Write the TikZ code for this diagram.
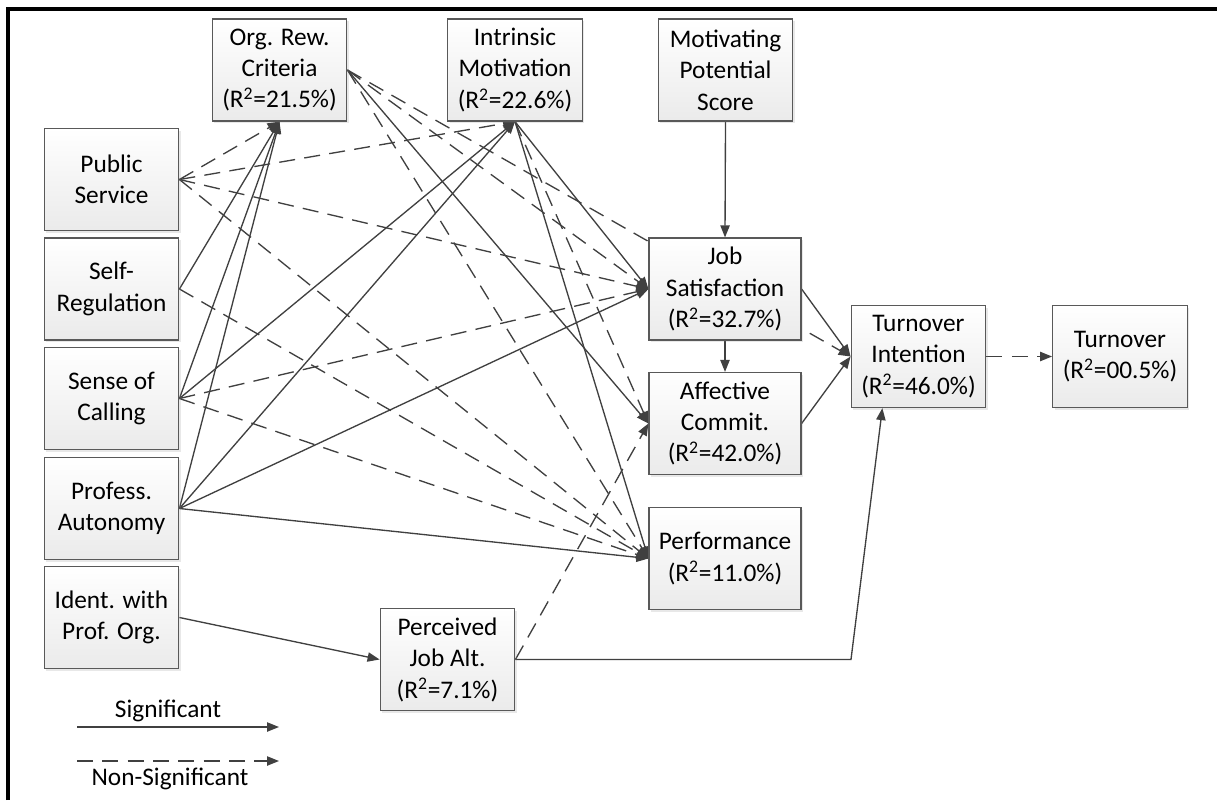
\documentclass[tikz,border=0pt]{standalone}
\usepackage{fontspec}
\setmainfont{Carlito}
\usetikzlibrary{arrows.meta,positioning,shadows}
\pgfdeclarelayer{bg}
\pgfsetlayers{bg,main}

\begin{document}
\begin{tikzpicture}[x=0.75pt,y=-0.75pt,
    font=\fontsize{19}{23.6}\selectfont,
    box/.style={draw=black!65, line width=0.9pt, top color=white, bottom color=black!8,
        drop shadow={opacity=0.18, shadow xshift=1.5pt, shadow yshift=-1.5pt},
        minimum width=101pt, minimum height=76.5pt, inner sep=0pt, align=center},
    wbox/.style={box, minimum width=114pt},
    sig/.style={draw=black!75, line width=1pt, -{Triangle[length=9pt,width=7pt]}},
    nsig/.style={sig, dash pattern=on 12pt off 7pt}]
    \useasboundingbox (0,0) rectangle (1217,800);
    \draw[line width=2.5pt] (8,800) -- (8,9) -- (1217,9);

    % mediators
    \node[box] (orc) at (279.5,70) {Org. Rew.\\Criteria\\(R\textsuperscript{2}=21.5\%)};
    \node[box] (im) at (515,70) {Intrinsic\\Motivation\\(R\textsuperscript{2}=22.6\%)};
    \node[box] (mps) at (725.5,70) {Motivating\\Potential\\Score};
    % antecedents
    \node[box] (ps) at (111.5,179.5) {Public\\Service};
    \node[box] (sr) at (111.5,289) {Self-\\Regulation};
    \node[box] (sc) at (111.5,398.5) {Sense of\\Calling};
    \node[box] (pa) at (111.5,508.5) {Profess.\\Autonomy};
    \node[box] (ident) at (111.5,617.5) {Ident. with\\Prof. Org.};
    \node[box] (pja) at (447.5,659.5) {Perceived\\Job Alt.\\(R\textsuperscript{2}=7.1\%)};
    % outcomes
    \node[wbox] (js) at (725,289) {Job\\Satisfaction\\(R\textsuperscript{2}=32.7\%)};
    \node[wbox] (ac) at (725,423.5) {Affective\\Commit.\\(R\textsuperscript{2}=42.0\%)};
    \node[wbox] (perf) at (725,558.5) {Performance\\(R\textsuperscript{2}=11.0\%)};
    \node[box] (ti) at (918.5,356.5) {Turnover\\Intention\\(R\textsuperscript{2}=46.0\%)};
    \node[box] (turn) at (1120,356.5) {Turnover\\(R\textsuperscript{2}=00.5\%)};
    \coordinate (bend) at (851,659.5);

    \begin{pgfonlayer}{bg}
        % significant paths
        \foreach \s/\t in {sr/orc.south, sc/orc.south, pa/orc.south, sc/im.south,
                           pa/im.south, pa/js.west, pa/perf.west, ident/pja.west}
            \draw[sig] (\s.east) -- (\t);
        \draw[sig] (im.south) -- (js.west);
        \draw[sig] (im.south) -- (perf.west);
        \draw[sig] (orc.east) -- (ac.west);
        \draw[sig] (mps.south) -- (js.north);
        \draw[sig] (js.south) -- (ac.north);
        \draw[sig] (js.east) -- (ti.west);
        \draw[sig] (ac.east) -- (ti.west);
        \draw[sig] (pja.east) -- (bend) -- (ti.-125);
        % non-significant paths
        \foreach \s/\t in {ps/orc.south, ps/im.south, ps/js.west, ps/perf.west,
                           sr/perf.west, sc/js.west, sc/perf.west, orc/js.west,
                           orc/perf.west, orc/ti.west, pja/ac.west, ti/turn.west}
            \draw[nsig] (\s.east) -- (\t);
        \draw[nsig] (im.south) -- (ac.west);
    \end{pgfonlayer}

    % legend
    \coordinate (sigA) at (77,727);
    \coordinate (sigB) at (279,727);
    \coordinate (nsA) at (77,761);
    \coordinate (nsB) at (279,761);
    \draw[sig] (sigA) -- (sigB);
    \draw[nsig] (nsA) -- (nsB);
    \node (sigtxt) at (168,711) {Significant};
    \node (nstxt) at (170,779) {Non-Significant};
\end{tikzpicture}
\end{document}
